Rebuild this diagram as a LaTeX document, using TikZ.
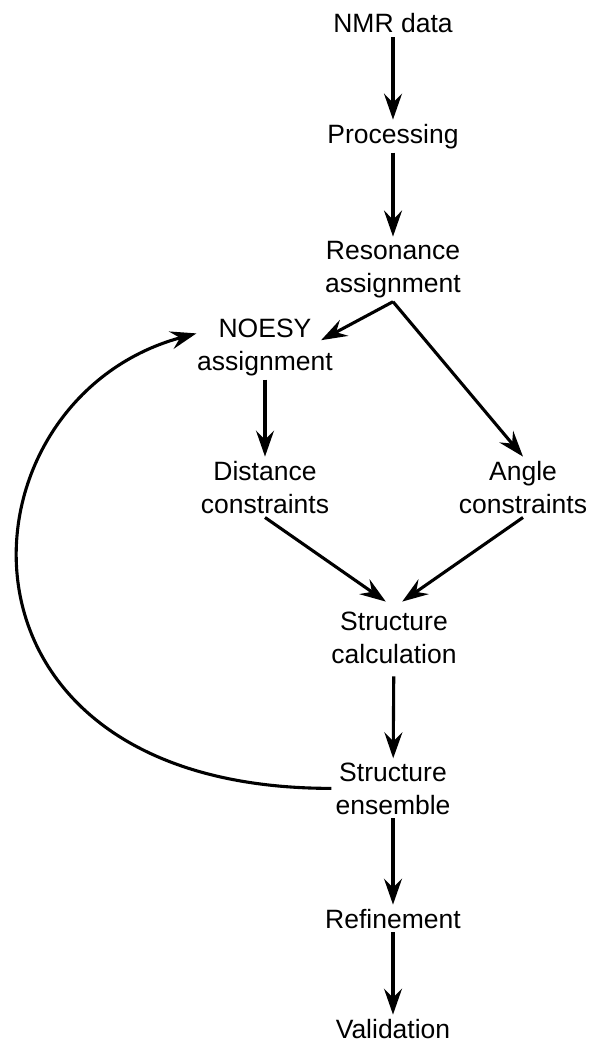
\documentclass[tikz,border=0pt]{standalone}
\usepackage{fontspec}
\setmainfont{Liberation Sans}
\usetikzlibrary{arrows.meta}
\begin{document}
\begin{tikzpicture}[x=1pt,y=-1pt,
  lbl/.style={font=\fontsize{26.5}{33}\selectfont, align=center, inner sep=4pt, anchor=base},
  arr/.style={line width=3.1pt, -{Stealth[length=26pt,width=18pt,inset=9pt]}}]
\useasboundingbox (0,0) rectangle (590,1041);
\node[lbl] (nmr) at (393,33) {NMR data};
\node[lbl] (proc) at (393,143) {Processing};
\node[lbl] (res) at (393,292) {Resonance\\assignment};
\node[lbl] (noesy) at (265,370) {NOESY\\assignment};
\node[lbl] (dist) at (265,513) {Distance\\constraints};
\node[lbl] (angle) at (523,513) {Angle\\constraints};
\node[lbl] (calc) at (394,663) {Structure\\calculation};
\node[lbl] (ens) at (393,814) {Structure\\ensemble};
\node[lbl] (ref) at (393,928) {Refinement};
\node[lbl] (val) at (393,1038) {Validation};
\draw[arr] (nmr) -- (proc);
\draw[arr] (proc) -- (res);
\draw[arr, shorten >=-18pt] (res.south) -- (noesy.12);
\draw[arr] (res.south) -- (angle.north);
\draw[arr] (noesy.south -| dist.north) -- (dist.north);
\draw[arr, shorten >=10pt] (dist.south) -- (calc.north);
\draw[arr, shorten >=10pt] (angle.south) -- (calc.north);
\draw[arr, shorten <=9pt] (calc) -- (ens);
\draw[arr] (ens) -- (ref);
\draw[arr] (ref) -- (val);
\draw[arr, shorten >=-3.5pt] (ens.west) .. controls +(-405,0) and +(-241,65) .. (noesy.170);
\end{tikzpicture}
\end{document}
